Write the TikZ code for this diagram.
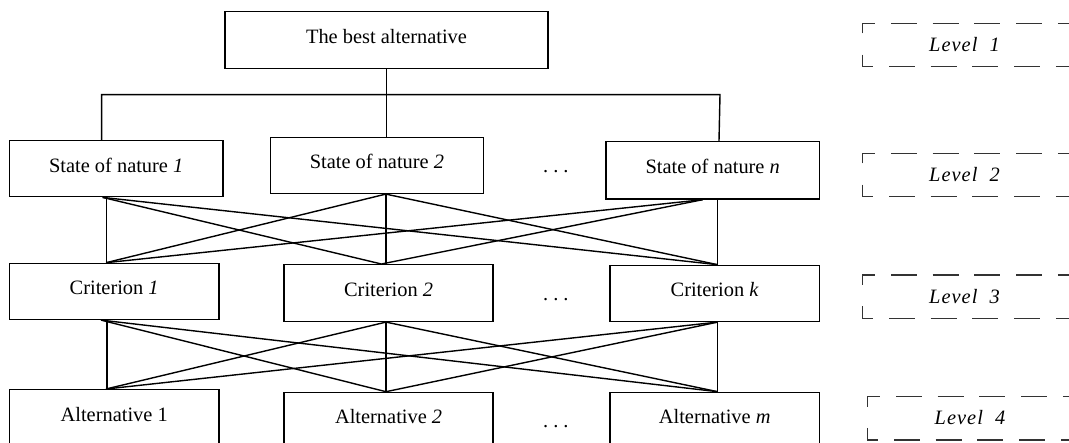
\documentclass[tikz,border=0pt]{standalone}
\usepackage{fontspec}
\setmainfont{Liberation Serif}
\usetikzlibrary{calc}
\begin{document}
\begin{tikzpicture}[x=1pt,y=-1pt,
  box/.style={draw,line width=1.4pt,inner xsep=0pt,inner ysep=0pt,anchor=north,
    text height=31.5pt,font=\fontsize{20.4}{24}\selectfont},
  conn/.style={line width=1.4pt},
  lvl/.style={line width=1.1pt,draw=black!80,dash pattern=on 26pt off 15.7pt,dash phase=3pt},
  lvltext/.style={anchor=base,font=\fontsize{20.4}{24}\selectfont\itshape\addfontfeature{LetterSpace=5}},
  dotstyle/.style={anchor=base,font=\fontsize{20.4}{24}\selectfont}]
\clip (0,0) rectangle (1069,443);

% Level 1
\node[box,minimum width=323pt,text depth=25.2pt] (top) at (386.5,11) {The best alternative};
% Level 2
\node[box,minimum width=213.8pt,text depth=24.5pt] (sn1) at (116.2,140) {State of nature \textit{1}};
\node[box,minimum width=213.2pt,text depth=24.5pt] (sn2) at (376.9,136.7) {State of nature \textit{2}};
\node[box,minimum width=213.3pt,text depth=25.8pt] (snn) at (712.7,141) {State of nature \textit{n}};
% Level 3
\node[box,minimum width=209.7pt,text depth=24.5pt] (c1) at (114.2,262.7) {Criterion \textit{1}};
\node[box,minimum width=209pt,text depth=25.2pt] (c2) at (388.6,264) {Criterion \textit{2}};
\node[box,minimum width=209.3pt,text depth=24.5pt] (ck) at (714.7,264.7) {Criterion \textit{k}};
% Level 4
\node[box,minimum width=209.7pt,text depth=50pt] (a1) at (114.2,389) {Alternative 1};
\node[box,minimum width=209pt,text depth=50pt] (a2) at (388.6,391.7) {Alternative \textit{2}};
\node[box,minimum width=209.3pt,text depth=50pt] (am) at (714.7,391.7) {Alternative \textit{m}};

% dots
\node[dotstyle] (d2) at (555.8,173) {.\ .\ .};
\node[dotstyle] (d3) at (555.8,301) {.\ .\ .};
\node[dotstyle] (d4) at (555.8,428) {.\ .\ .};

% Tree from top
\coordinate (busL) at (101.6,94.7);
\coordinate (busR) at (720,94.7);
\coordinate (busM) at (top.south |- busL);
\draw[conn] (top.south) -- (busM);
\draw[conn] (sn1.north -| busL) -- (busL) -- (busR) -- ([xshift=-1pt]busR |- snn.north);
\draw[conn] (busM) -- (sn2.north -| busM);

% attachment points level 2 -> 3
\coordinate (s1o) at ([xshift=94pt]sn1.south west);
\coordinate (s1v) at ([xshift=98pt]sn1.south west);
\coordinate (s2o) at ([xshift=116.2pt]sn2.south west);
\coordinate (sno) at ([xshift=97.3pt]snn.south west);
\coordinate (snv) at ([xshift=112.3pt]snn.south west);
\coordinate (c1t) at ([xshift=97.4pt]c1.north west);
\coordinate (c2t) at ([xshift=98pt]c2.north west);
\coordinate (ckt) at ([xshift=108.3pt]ck.north west);

\draw[conn] (s1v) -- (s1v |- c1.north);
\draw[conn] (s2o) -- (s2o |- c2.north);
\draw[conn] (snv) -- (snv |- ck.north);
\draw[conn] (s1o) -- (c2t);
\draw[conn] (s1o) -- (ckt);
\draw[conn] (s2o) -- (c1t);
\draw[conn] (s2o) -- (ckt);
\draw[conn] (sno) -- (c1t);
\draw[conn] (sno) -- (c2t);

% attachment points level 3 -> 4
\coordinate (c1o) at ([xshift=92.4pt]c1.south west);
\coordinate (c1v) at ([xshift=98.4pt]c1.south west);
\coordinate (c2o) at ([xshift=102.6pt]c2.south west);
\coordinate (cko) at ([xshift=108.3pt]ck.south west);
\coordinate (a1t) at ([xshift=97.4pt]a1.north west);
\coordinate (a2t) at ([xshift=102.6pt]a2.north west);
\coordinate (amt) at ([xshift=108.3pt]am.north west);

\draw[conn] (c1v) -- (c1v |- a1.north);
\draw[conn] (c2o) -- (a2t);
\draw[conn] (cko) -- (amt);
\draw[conn] (c1o) -- (a2t);
\draw[conn] (c1o) -- (amt);
\draw[conn] (c2o) -- (a1t);
\draw[conn] (c2o) -- (amt);
\draw[conn] (cko) -- (a1t);
\draw[conn] (cko) -- (a2t);

% Level boxes
\draw[lvl] (862.3,33.3) -- (862.3,23.3) -- (1090,23.3);
\draw[lvl] (862.3,54.7) -- (862.3,66.7) -- (1090,66.7);
\node[lvltext] (l1) at (964.5,51.7) {Level\ \ 1};

\draw[lvl] (862.3,163.3) -- (862.3,153.3) -- (1090,153.3);
\draw[lvl] (862.3,184.7) -- (862.3,196.7) -- (1090,196.7);
\node[lvltext] (l2) at (964.5,181.7) {Level\ \ 2};

\draw[lvl] (862.3,285) -- (862.3,275) -- (1090,275);
\draw[lvl] (862.3,306.3) -- (862.3,318.3) -- (1090,318.3);
\node[lvltext] (l3) at (964.5,303.3) {Level\ \ 3};

\draw[lvl] (867.3,406.7) -- (867.3,396.7) -- (1090,396.7);
\draw[lvl] (867.3,428) -- (867.3,440) -- (1090,440);
\node[lvltext] (l4) at (970,425) {Level\ \ 4};
\end{tikzpicture}
\end{document}
